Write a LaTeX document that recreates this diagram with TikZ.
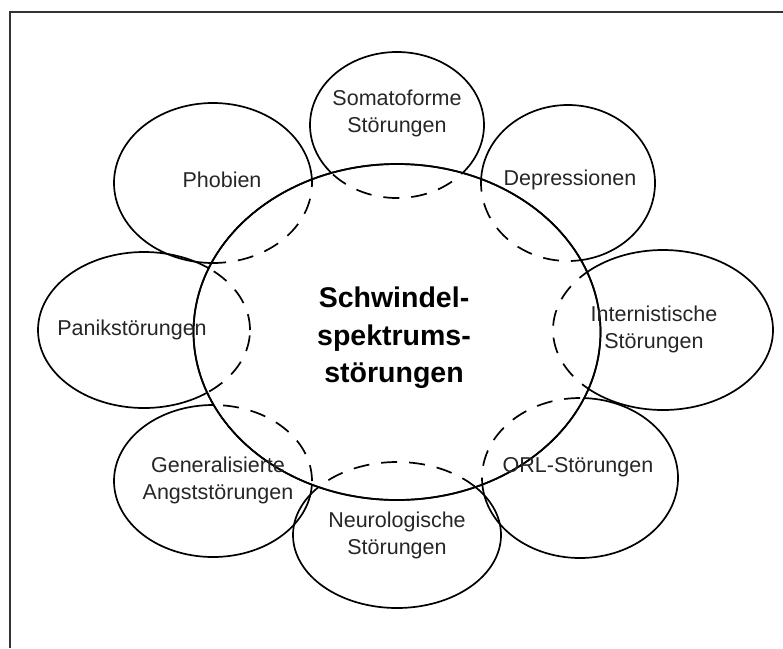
\documentclass[tikz,border=0pt]{standalone}
\usepackage{fontspec}
\setmainfont{Liberation Sans}
\usetikzlibrary{shapes.geometric}
\begin{document}
\begin{tikzpicture}[x=1pt,y=-1pt,
  sat/.style={ellipse, draw=black, line width=1.7pt, inner sep=0pt, outer sep=0pt},
  dashpart/.style={draw=black, line width=1.7pt, dash pattern=on 16pt off 12pt},
  lbl/.style={font=\fontsize{21.5}{27}\selectfont, align=center, inner sep=0pt, text=black!85},
  big/.style={font=\fontsize{28.5}{37.5}\selectfont\bfseries, align=center, inner sep=0pt},
  frame/.style={draw=black!80, line width=2pt}]
\useasboundingbox (0,0) rectangle (783,648);
\coordinate (fr1) at (9.5,648);
\coordinate (fr2) at (9.5,11.5);
\coordinate (fr3) at (783,11.5);
\draw[frame] (fr1) -- (fr2) -- (fr3);
% satellites (solid)
\foreach \n/\x/\y/\w/\h in {soma/397/125/174/146, depr/568/183/174/156, phob/213/183/198/160,
  pani/144/330/212/156, inte/663/330/220/160, gena/213/481/198/152, orl/580/478/196/160,
  neur/397/535/208/146}{
  \node[sat, minimum width=\w pt, minimum height=\h pt] (\n) at (\x,\y) {};
}
% central ellipse
\node[sat, fill=white, minimum width=407pt, minimum height=336pt] (ctr) at (397,332) {};
% dashed parts inside the central ellipse
\begin{scope}
  \clip (ctr.center) ellipse [x radius=203.5pt, y radius=168pt];
  \foreach \n/\w/\h in {soma/174/146, depr/174/156, phob/198/160, pani/212/156,
    inte/220/160, gena/198/152, orl/196/160, neur/208/146}{
    \draw[dashpart] (\n.center) ellipse [x radius=\w pt/2, y radius=\h pt/2];
  }
\end{scope}
\draw[line width=1.7pt] (ctr.center) ellipse [x radius=203.5pt, y radius=168pt];
% labels
\node[lbl] (tsoma) at (397,113) {Somatoforme\\Störungen};
\node[lbl] (tdepr) at (570,180) {Depressionen};
\node[lbl] (tphob) at (222,180) {Phobien};
\node[lbl] (tpani) at (132,330) {Panikstörungen};
\node[lbl] (tinte) at (654,329) {Internistische\\Störungen};
\node[lbl] (tgena) at (218,480) {Generalisierte\\Angststörungen};
\node[lbl] (torl) at (578,467) {ORL-Störungen};
\node[lbl] (tneur) at (397,535) {Neurologische\\Störungen};
\node[big] (tctr) at (394,338) {Schwindel-\\spektrums-\\störungen};
\end{tikzpicture}
\end{document}
